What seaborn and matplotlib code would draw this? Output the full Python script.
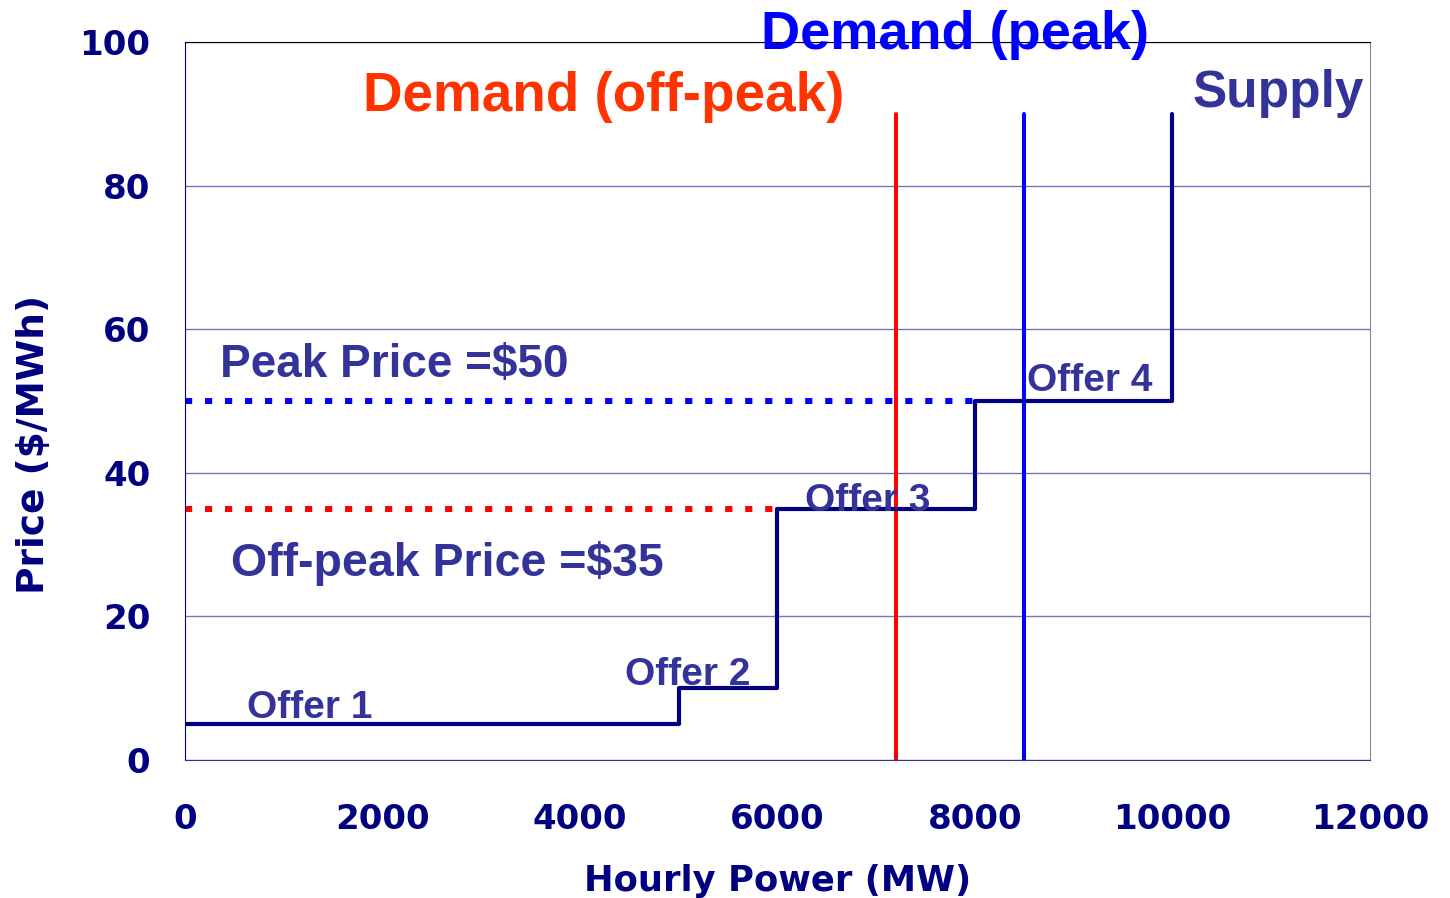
import matplotlib
matplotlib.use("Agg")
import matplotlib.pyplot as plt
import seaborn as sns

# supply curve (stepped offers)
supply_mw = [0, 5000, 5000, 6000, 6000, 8000, 8000, 10000, 10000]
supply_price = [5, 5, 10, 10, 35, 35, 50, 50, 90]

# demand (vertical lines)
offpeak_mw = [7200, 7200]
peak_mw = [8500, 8500]
demand_price = [0, 90]

# clearing prices
peak_price_x = [0, 8000]
peak_price_y = [50, 50]
offpeak_price_x = [0, 6000]
offpeak_price_y = [35, 35]

offer_labels = ["Offer 1", "Offer 2", "Offer 3", "Offer 4"]
offer_x = [630, 4460, 6280, 8530]
offer_y = [7.3, 11.8, 36.1, 52.8]

xticks = [0, 2000, 4000, 6000, 8000, 10000, 12000]
yticks = [0, 20, 40, 60, 80, 100]

NAVY = "#000080"
LABEL = "#333399"

sns.set_style("white")
plt.rcParams["font.family"] = ["DejaVu Sans"]

fig = plt.figure(figsize=(14.5, 8.98), dpi=100)
ax = fig.add_axes([0.1276, 0.1537, 0.9448 - 0.1276, 0.9532 - 0.1537])

dash = (0, (1.2, 2.15))
sns.lineplot(x=peak_price_x, y=peak_price_y, color="#0000FF", lw=4.3, ax=ax)
ax.lines[-1].set_linestyle(dash)
ax.lines[-1].set_dash_capstyle("butt")
sns.lineplot(x=offpeak_price_x, y=offpeak_price_y, color="#FF0000", lw=4.3, ax=ax)
ax.lines[-1].set_linestyle(dash)
ax.lines[-1].set_dash_capstyle("butt")

sns.lineplot(x=offpeak_mw, y=demand_price, color="#FF0000", lw=2.9,
             sort=False, estimator=None, ax=ax)
sns.lineplot(x=peak_mw, y=demand_price, color="#0000FF", lw=2.9,
             sort=False, estimator=None, ax=ax)
sns.lineplot(x=supply_mw, y=supply_price, color=NAVY, lw=3.0,
             sort=False, estimator=None, ax=ax)

ax.set_xlim(0, 12000)
ax.set_ylim(0, 100)
ax.set_xticks(xticks)
ax.set_yticks(yticks)
ax.yaxis.grid(True, color="#7777BB", lw=1)
ax.set_axisbelow(True)

ax.tick_params(axis="both", direction="out", length=7, width=1, color=NAVY,
               labelsize=24.5, labelcolor=NAVY)
ax.tick_params(axis="x", pad=24)
ax.tick_params(axis="y", pad=18)
for lab in ax.get_xticklabels() + ax.get_yticklabels():
    lab.set_fontweight("bold")

ax.spines["left"].set_color(NAVY)
ax.spines["bottom"].set_color("#333399")
ax.spines["top"].set_color("black")
ax.spines["right"].set_color("#888888")

ax.set_xlabel("Hourly Power (MW)", fontsize=25.5, fontweight="bold", color=NAVY, labelpad=20)
ax.set_ylabel("Price ($/MWh)", fontsize=27, fontweight="bold", color=NAVY)
ax.yaxis.set_label_coords(-0.1122, 0.439)

tf = ["Liberation Sans", "DejaVu Sans"]
ax.text(7800, 101.0, "Demand (peak)", color="#0000FF", fontsize=39, fontweight="bold",
        ha="center", va="center", family=tf, clip_on=False)
ax.text(1800, 92.3, "Demand (off-peak)", color="#FF3300", fontsize=39.5, fontweight="bold",
        ha="left", va="center", family=tf)
ax.text(10200, 92.9, "Supply", color=LABEL, fontsize=37, fontweight="bold",
        ha="left", va="center", family=tf, clip_on=False)
ax.text(350, 55.0, "Peak Price =$50", color=LABEL, fontsize=33, fontweight="bold",
        ha="left", va="center", family=tf)
ax.text(470, 27.3, "Off-peak Price =$35", color=LABEL, fontsize=33.5, fontweight="bold",
        ha="left", va="center", family=tf)
for lab, x, y in zip(offer_labels, offer_x, offer_y):
    ax.text(x, y, lab, color=LABEL, fontsize=28, fontweight="bold",
            ha="left", va="center", family=tf)

fig.savefig("out.png", dpi=100)
